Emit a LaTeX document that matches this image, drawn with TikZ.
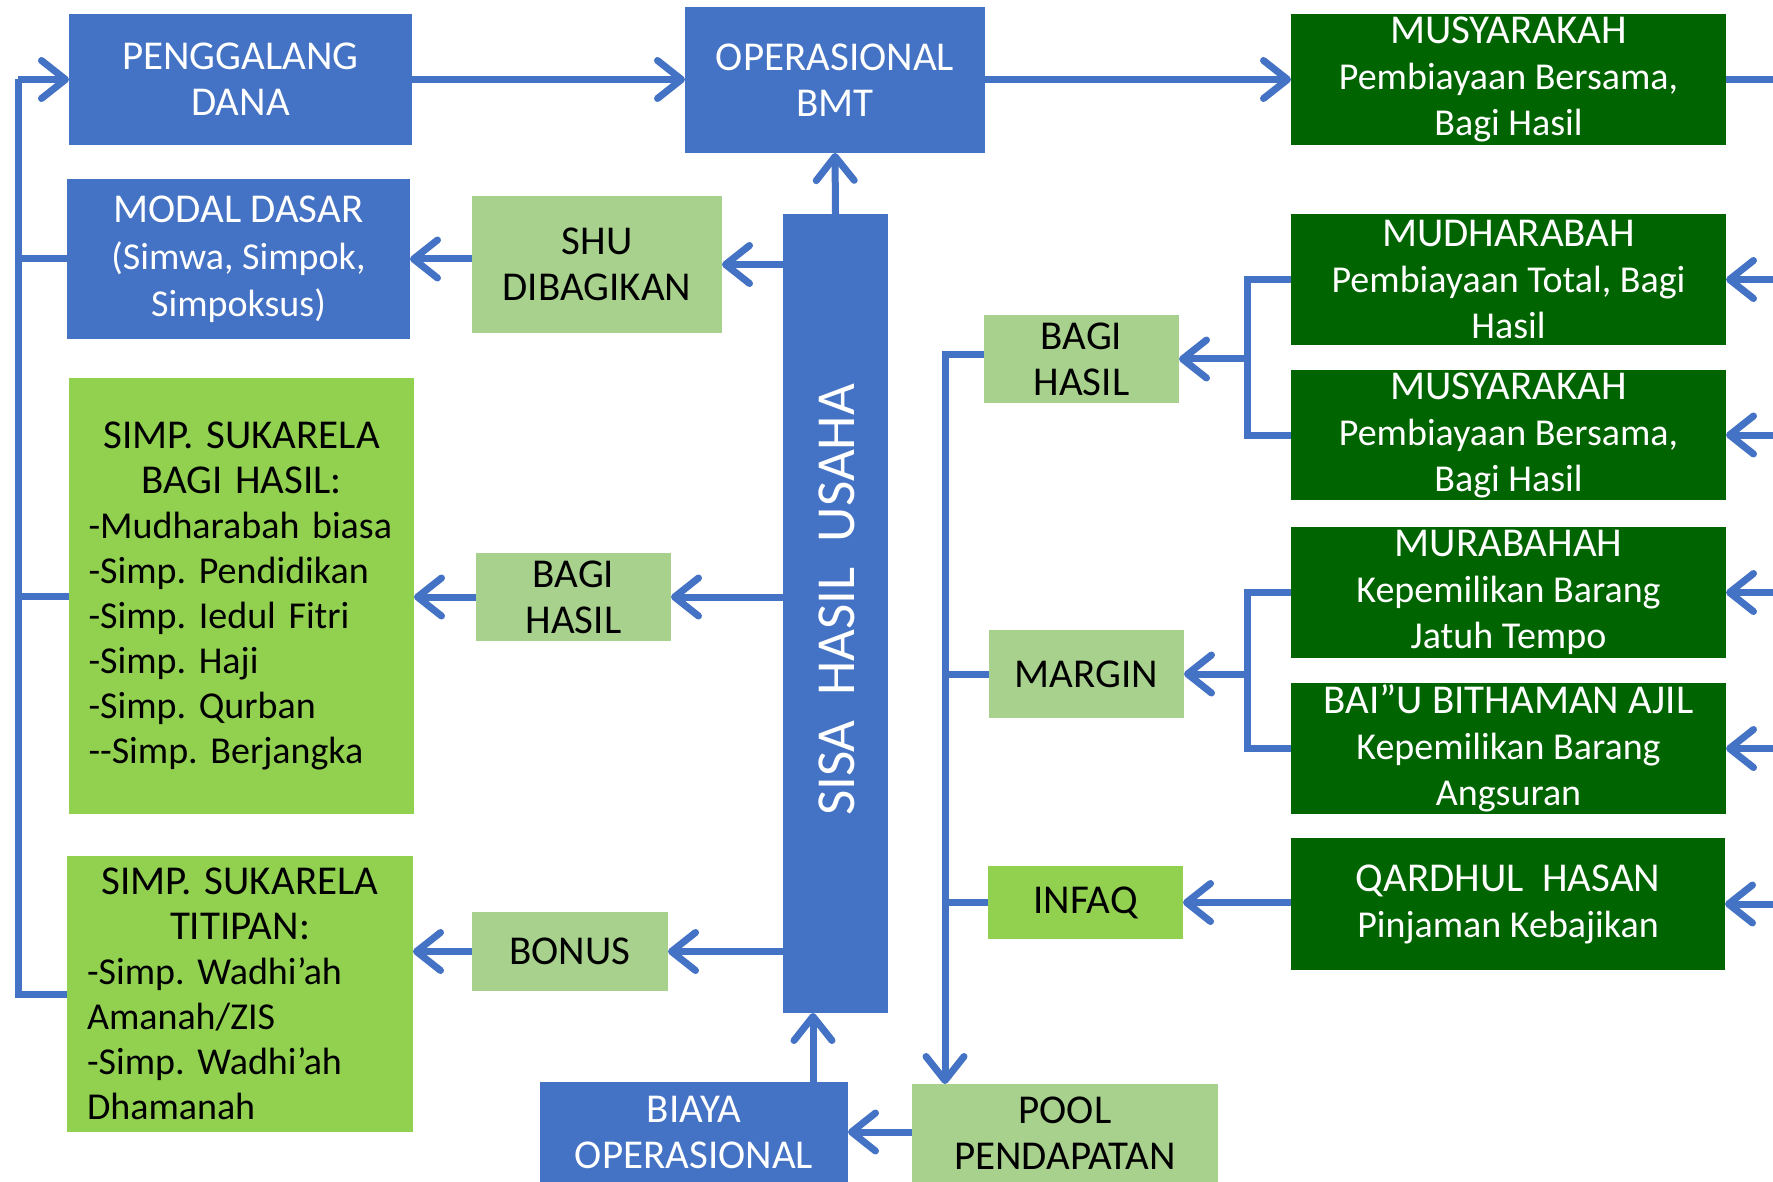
\documentclass[tikz,border=0pt]{standalone}
\usepackage{fontspec}
\setmainfont{Carlito}
\usetikzlibrary{arrows.meta}
\definecolor{cblue}{HTML}{4472C4}
\definecolor{dgreen}{HTML}{006400}
\definecolor{lgreen}{HTML}{A9D18E}
\definecolor{bgreen}{HTML}{92D050}
\newcommand{\capsz}{\fontsize{41}{46}\selectfont}
\frenchspacing
\begin{document}
\begin{tikzpicture}[x=1pt,y=-1pt,
  base/.style={inner sep=0pt, outer sep=0pt, align=center, font=\fontsize{41}{46}\selectfont},
  bluebox/.style={base, fill=cblue, text=white},
  darkbox/.style={base, fill=dgreen, text=white, font=\fontsize{38}{46}\selectfont},
  lightbox/.style={base, fill=lgreen, text=black},
  brightbox/.style={base, fill=bgreen, text=black},
  listbox/.style={brightbox, align=left, text width=306pt, font=\fontsize{38}{45}\selectfont\frenchspacing},
  conn/.style={draw=cblue, line width=7pt},
  arr/.style={conn, -{Straight Barb[length=24pt,width=38pt,round]}},
]
\useasboundingbox (0,0) rectangle (1773,1182);
\clip (0,0) rectangle (1773,1182);

% helper coordinates
\coordinate (lx) at (18,0);
\coordinate (rx) at (945,0);
\coordinate (brx) at (1247,0);
\coordinate (bx) at (813,0);
\coordinate (e1) at (1800,79.5);
\coordinate (e2) at (1800,279.5);
\coordinate (e3) at (1800,435);
\coordinate (e4) at (1800,592.5);
\coordinate (e5) at (1800,748.5);
\coordinate (e6) at (1800,904);

% left column
\node[bluebox, minimum width=343pt, minimum height=131pt] (peng) at (240.5,79.5) {PENGGALANG\\DANA};
\node[bluebox, minimum width=343pt, minimum height=160pt, font=\fontsize{38}{47}\selectfont] (modal) at (238.5,259) {{\capsz MODAL DASAR}\\(Simwa, Simpok,\\Simpoksus)};
\node[listbox, minimum width=345pt, minimum height=436pt] (simpbh) at (241.5,596) {\makebox[306pt]{\capsz SIMP. SUKARELA}\\\makebox[306pt]{\capsz BAGI HASIL:}\\-Mudharabah biasa\\-Simp. Pendidikan\\-Simp. Iedul Fitri\\-Simp. Haji\\-Simp. Qurban\\-{}-Simp. Berjangka};
\node[listbox, minimum width=346pt, minimum height=276pt] (titipan) at (240,994) {\makebox[306pt]{\capsz SIMP. SUKARELA}\\\makebox[306pt]{\capsz TITIPAN:}\\-Simp. Wadhi’ah\\Amanah/ZIS\\-Simp. Wadhi’ah\\Dhamanah};

% middle column
\node[bluebox, minimum width=300pt, minimum height=146pt] (bmt) at (835,80) {OPERASIONAL\\BMT};
\node[lightbox, minimum width=250pt, minimum height=137pt] (shu) at (597,264.5) {SHU\\DIBAGIKAN};
\node[lightbox, minimum width=195pt, minimum height=88pt] (bh1) at (573.5,597) {BAGI\\HASIL};
\node[lightbox, minimum width=196pt, minimum height=79pt] (bonus) at (570,951.5) {BONUS};
\node[fill=cblue, inner sep=0pt, outer sep=0pt, minimum width=105pt, minimum height=799pt] (sisa) at (835.5,613.5) {};
\node[text=white, rotate=90, inner sep=0pt, font=\fontsize{55}{60}\selectfont] (sisatext) at (837,600) {SISA~~HASIL~~USAHA};
\node[bluebox, minimum width=308pt, minimum height=100pt] (biaya) at (694,1132) {BIAYA\\OPERASIONAL};
\node[lightbox, minimum width=306pt, minimum height=98pt] (pool) at (1065,1133) {POOL\\PENDAPATAN};

% right-middle column
\node[lightbox, minimum width=195pt, minimum height=88pt] (bh2) at (1081.5,359) {BAGI\\HASIL};
\node[lightbox, minimum width=195pt, minimum height=88pt] (margin) at (1086.5,674) {MARGIN};
\node[brightbox, minimum width=195pt, minimum height=73pt] (infaq) at (1085.5,902.5) {INFAQ};

% right column
\node[darkbox, minimum width=435pt, minimum height=131pt] (mus1) at (1508.5,79.5) {{\capsz MUSYARAKAH}\\Pembiayaan Bersama,\\Bagi Hasil};
\node[darkbox, minimum width=435pt, minimum height=131pt] (mudh) at (1508.5,279.5) {{\capsz MUDHARABAH}\\Pembiayaan Total, Bagi\\Hasil};
\node[darkbox, minimum width=435pt, minimum height=130pt] (mus2) at (1508.5,435) {{\capsz MUSYARAKAH}\\Pembiayaan Bersama,\\Bagi Hasil};
\node[darkbox, minimum width=435pt, minimum height=131pt] (murab) at (1508.5,592.5) {{\capsz MURABAHAH}\\Kepemilikan Barang\\Jatuh Tempo};
\node[darkbox, minimum width=435pt, minimum height=131pt] (baiu) at (1508.5,748.5) {{\capsz BAI”U BITHAMAN AJIL}\\Kepemilikan Barang\\Angsuran};
\node[darkbox, minimum width=434pt, minimum height=132pt] (qard) at (1508,904) {{\capsz QARDHUL~~HASAN}\\Pinjaman Kebajikan};

% left loop
\draw[conn] (titipan.west) -- (titipan.west -| lx) -- (lx |- peng.west);
\draw[arr] (lx |- peng.west) -- (peng.west);
\draw[conn] (modal.west) -- (modal.west -| lx);
\draw[conn] (simpbh.west) -- (simpbh.west -| lx);

% top row
\draw[arr] (peng.east) -- (peng.east -| bmt.west);
\draw[arr] (bmt.east |- mus1.west) -- (mus1.west);
\draw[conn] (mus1.east) -- (e1);

% from SISA
\draw[arr] (sisa.north) -- (bmt.south);
\draw[arr] (sisa.west |- shu.east) -- (shu.east);
\draw[arr] (sisa.west |- bh1.east) -- (bh1.east);
\draw[arr] (sisa.west |- bonus.east) -- (bonus.east);
\draw[arr] (shu.west |- modal.east) -- (modal.east);
\draw[arr] (bh1.west) -- (bh1.west -| simpbh.east);
\draw[arr] (bonus.west) -- (bonus.west -| titipan.east);

% bottom
\draw[arr] (bx |- biaya.north) -- (bx |- sisa.south);
\draw[arr] (pool.west |- biaya.east) -- (biaya.east);

% right trunk
\draw[arr] ([yshift=4pt]bh2.west) -- ([yshift=4pt]bh2.west -| rx) -- (rx |- pool.north);
\draw[conn] (margin.west) -- (margin.west -| rx);
\draw[conn] (infaq.west) -- (infaq.west -| rx);

% brackets
\draw[conn] (mudh.west) -- (mudh.west -| brx) -- (brx |- mus2.west) -- (mus2.west);
\draw[arr] (brx |- bh2.east) -- (bh2.east);
\draw[conn] (murab.west) -- (murab.west -| brx) -- (brx |- baiu.west) -- (baiu.west);
\draw[arr] (brx |- margin.east) -- (margin.east);
\draw[arr] (qard.west |- infaq.east) -- (infaq.east);

% right edge arrows
\draw[arr] (e2) -- (mudh.east);
\draw[arr] (e3) -- (mus2.east);
\draw[arr] (e4) -- (murab.east);
\draw[arr] (e5) -- (baiu.east);
\draw[arr] (e6) -- (qard.east);
\end{tikzpicture}
\end{document}
